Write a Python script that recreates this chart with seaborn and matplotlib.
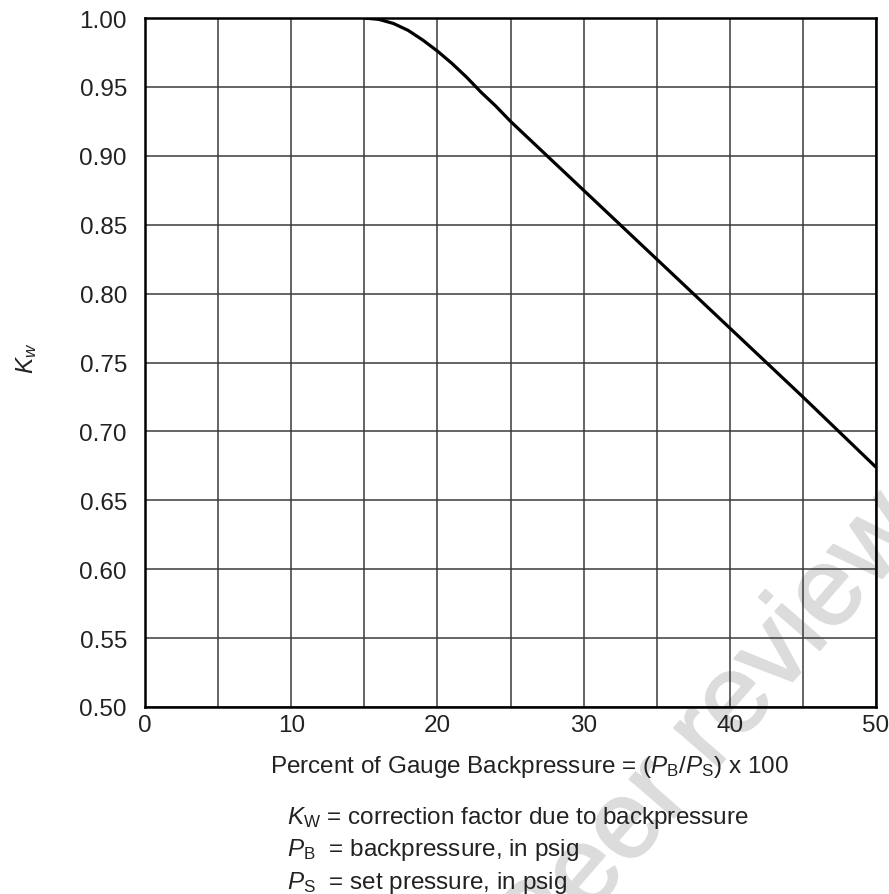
import matplotlib
matplotlib.use("Agg")
import matplotlib.pyplot as plt
import matplotlib.patheffects as pe
import seaborn as sns
import pandas as pd

# Backpressure correction factor curve
backpressure_pct = [15, 16, 17, 18, 19, 20, 21, 22, 23, 24, 25, 30, 35, 40, 45, 50]
kw_values = [1.000, 0.999, 0.996, 0.991, 0.984, 0.976, 0.967, 0.957, 0.946, 0.936,
             0.925, 0.875, 0.825, 0.775, 0.725, 0.674]

x_ticks = [0, 10, 20, 30, 40, 50]
y_ticks = [0.50, 0.55, 0.60, 0.65, 0.70, 0.75, 0.80, 0.85, 0.90, 0.95, 1.00]
x_grid = [0, 5, 10, 15, 20, 25, 30, 35, 40, 45, 50]

notes = [
    r"$K_{\mathrm{W}}$ = correction factor due to backpressure",
    r"$P_{\mathrm{B}}$  = backpressure, in psig",
    r"$P_{\mathrm{S}}$  = set pressure, in psig",
]

sns.set_theme(style="white")
plt.rcParams["font.family"] = ["Liberation Sans", "DejaVu Sans"]
plt.rcParams["mathtext.fontset"] = "custom"
plt.rcParams["mathtext.rm"] = "Liberation Sans"
plt.rcParams["mathtext.it"] = "Liberation Sans:italic"
plt.rcParams["mathtext.bf"] = "Liberation Sans:bold"

FS = 17.5
TXT = "#222222"

df = pd.DataFrame({"pct": backpressure_pct, "kw": kw_values})

fig = plt.figure(figsize=(8.89, 8.95), dpi=100)
fig.patch.set_facecolor("white")
ax = fig.add_axes([145 / 889, 1 - 708 / 895, (876 - 145) / 889, (708 - 19) / 895])
ax.set_facecolor("none")

sns.lineplot(data=df, x="pct", y="kw", ax=ax, color="black", linewidth=2.3,
             zorder=5, solid_capstyle="butt")

ax.set_xlim(0, 50)
ax.set_ylim(0.50, 1.00)
ax.set_xticks(x_ticks)
ax.set_xticks(x_grid, minor=True)
ax.set_yticks(y_ticks)
ax.set_xticklabels([str(v) for v in x_ticks])
ax.set_yticklabels([f"{v:.2f}" for v in y_ticks])
ax.grid(True, which="both", axis="x", color="#3a3a3a", linewidth=1.1, zorder=1)
ax.grid(True, which="major", axis="y", color="#3a3a3a", linewidth=1.1, zorder=1)
ax.set_axisbelow(True)
ax.tick_params(axis="both", which="both", length=0, labelsize=FS, colors=TXT)
ax.tick_params(axis="y", pad=13)
ax.tick_params(axis="x", pad=5)
for s in ax.spines.values():
    s.set_color("black")
    s.set_linewidth(1.8)
    s.set_zorder(6)

ax.set_xlabel(r"Percent of Gauge Backpressure = ($P_{\mathrm{B}}$/$P_{\mathrm{S}}$) x 100",
              fontsize=FS, color=TXT)
ax.xaxis.set_label_coords((530 - 145) / 731, -(767 - 708) / 689)
ax.xaxis.label.set_va("center")
ax.set_ylabel(r"$K_w$", fontsize=FS, color=TXT)
ax.yaxis.label.set_va("center")
ax.yaxis.set_label_coords(-118 / 731, (708 - 358) / 689)

for i, line in enumerate(notes):
    fig.text(287 / 889, 1 - (818 + 32.5 * i) / 895, line, fontsize=FS,
             color=TXT, va="center", ha="left")

# faint diagonal watermark behind the chart
fig.text(710 / 889, 1 - 733 / 895, "Peer review", fontsize=80,
         color="#dcdcdc", rotation=49, rotation_mode="anchor",
         ha="center", va="center", zorder=-1,
         path_effects=[pe.withStroke(linewidth=1.5, foreground="#dcdcdc")])

fig.savefig("out.png", dpi=100, facecolor="white")
